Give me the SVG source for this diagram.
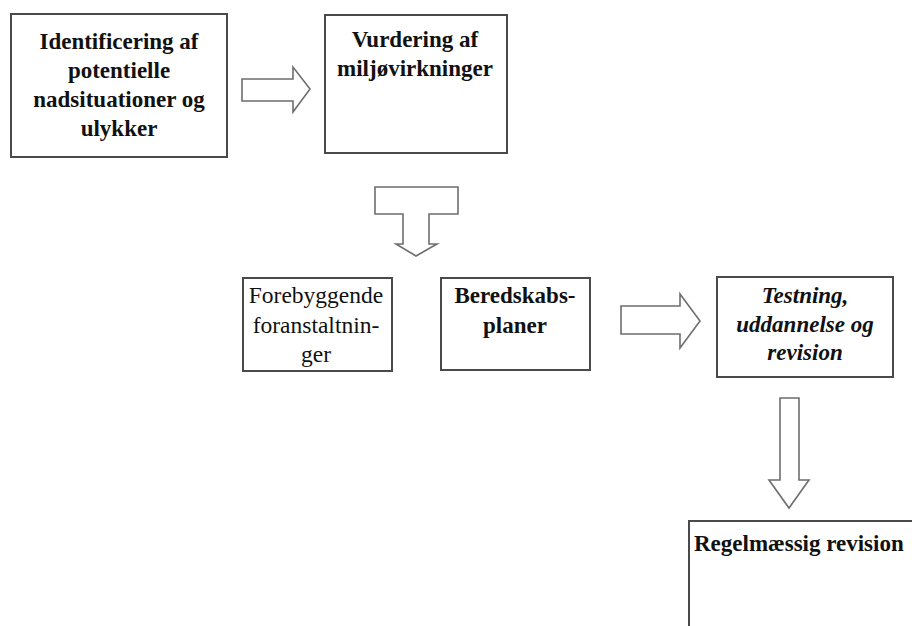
<svg xmlns="http://www.w3.org/2000/svg" width="912" height="626" viewBox="0 0 912 626">
  <style>
    .box { fill: #ffffff; stroke: #4a4a4a; stroke-width: 2; }
    .arrow { fill: #ffffff; stroke: #6e6e6e; stroke-width: 1.6; stroke-linejoin: miter; }
    .t { font-family: "Liberation Serif", "Times New Roman", serif; font-size: 23px; font-weight: bold; fill: #111111; text-anchor: middle; }
    .reg { font-weight: normal; font-size: 23.5px; }
    .it { font-style: italic; }
    .left { text-anchor: start; }
  </style>
  <rect width="912" height="626" fill="#ffffff"/>

  <g id="connectors">
    <!-- right arrow between top boxes -->
    <path class="arrow" d="M242,79 H293 V67 L310,89 L293,112 V101 H242 Z"/>
    <!-- T-shaped split arrow below the assessment box -->
    <path class="arrow" d="M375,187 H458 V214 H429 V244 H437 L416,256 L396,244 H403 V214 H375 Z"/>
    <!-- right arrow towards testing box -->
    <path class="arrow" d="M621,306 H680 V294 L700,321 L680,348 V334 H621 Z"/>
    <!-- down arrow towards periodic review -->
    <path class="arrow" d="M780,398 H799 V480 H809 L789,508 L769,480 H780 Z"/>
  </g>

  <g id="node-identificering">
    <rect class="box" x="11" y="14" width="216" height="143"/>
    <text class="t" x="119" y="49">Identificering af</text>
    <text class="t" x="119" y="78">potentielle</text>
    <text class="t" x="119" y="107">nadsituationer og</text>
    <text class="t" x="119" y="136">ulykker</text>
  </g>

  <g id="node-vurdering">
    <rect class="box" x="325" y="15" width="182" height="138"/>
    <text class="t" x="415" y="47">Vurdering af</text>
    <text class="t" x="415" y="76">miljøvirkninger</text>
  </g>

  <g id="node-forebyggende">
    <rect class="box" x="243" y="278" width="149" height="93"/>
    <text class="t reg" x="316" y="303">Forebyggende</text>
    <text class="t reg" x="316" y="333">foranstaltnin-</text>
    <text class="t reg" x="316" y="362">ger</text>
  </g>

  <g id="node-beredskab">
    <rect class="box" x="441" y="278" width="149" height="92"/>
    <text class="t" x="515" y="303">Beredskabs-</text>
    <text class="t" x="515" y="333">planer</text>
  </g>

  <g id="node-testning">
    <rect class="box" x="717" y="277" width="176" height="100"/>
    <text class="t it" x="805" y="303">Testning,</text>
    <text class="t it" x="805" y="332">uddannelse og</text>
    <text class="t it" x="805" y="360">revision</text>
  </g>

  <g id="node-regelmaessig">
    <rect class="box" x="689" y="521" width="240" height="130"/>
    <text class="t left" x="694" y="551">Regelmæssig revision</text>
  </g>
</svg>
